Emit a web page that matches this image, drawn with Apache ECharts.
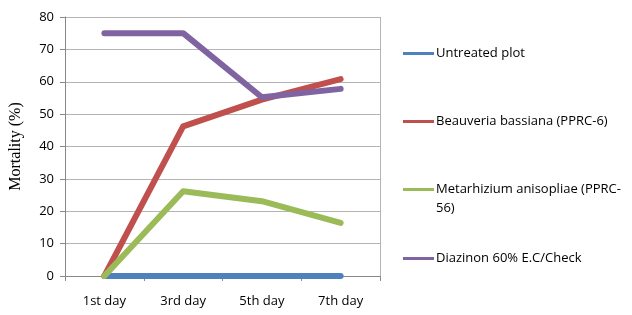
<!DOCTYPE html>
<html>
<head>
<meta charset="utf-8">
<script src="https://cdn.jsdelivr.net/npm/echarts@6/dist/echarts.min.js"></script>
<style>
  html, body { margin: 0; padding: 0; background: #fff; }
  #chart { width: 632px; height: 315px; }
</style>
</head>
<body>
<div id="chart"></div>
<script>
var days = ['1st day', '3rd day', '5th day', '7th day'];
var untreated = [0, 0, 0, 0];
var beauveria = [0, 46.2, 54.5, 60.8];
var metarhizium = [0, 26.2, 23.1, 16.4];
var diazinon = [75, 75, 55.2, 57.8];

var names = ['Untreated plot', 'Beauveria bassiana (PPRC-6)', 'Metarhizium anisopliae (PPRC-56)', 'Diazinon 60% E.C/Check'];
var colors = ['#4F81BD', '#C0504D', '#9BBB59', '#8064A2'];
var legendTops = [39, 107, 156, 244];

var legends = names.map(function (n, i) {
    return {
        data: [n],
        left: 398,
        top: legendTops[i],
        icon: 'rect',
        itemWidth: 31,
        itemHeight: 3,
        itemGap: 3,
        selectedMode: false,
        formatter: function (name) {
            // empty first line keeps the swatch level with the first text line
            return name === names[2] ? ' \nMetarhizium anisopliae (PPRC-\n56)' : name;
        },
        textStyle: {
            fontFamily: 'Open Sans', fontSize: 13, color: '#000', lineHeight: 19,
            padding: [0, 0, 0, -3]
        }
    };
});

function mk(name, data, i) {
    return {
        name: name,
        type: 'line',
        data: data,
        symbol: 'none',
        color: colors[i],
        lineStyle: { width: 6, cap: 'round', join: 'round', color: colors[i] },
        animation: false
    };
}

var option = {
    backgroundColor: '#fff',
    legend: legends,
    grid: { left: 63, right: 252, top: 17, bottom: 39 },
    xAxis: {
        type: 'category',
        data: days,
        boundaryGap: true,
        axisLine: { lineStyle: { color: '#888' } },
        axisTick: { show: true, length: 5, lineStyle: { color: '#888' } },
        axisLabel: { fontFamily: 'Open Sans', fontSize: 13, color: '#000', margin: 19 },
        splitLine: { show: false }
    },
    yAxis: {
        type: 'value',
        min: 0,
        max: 80,
        interval: 10,
        name: 'Mortality (%)',
        nameLocation: 'middle',
        nameGap: 41,
        nameTextStyle: { fontFamily: 'Liberation Serif', fontSize: 16, color: '#000' },
        axisLine: { show: true, lineStyle: { color: '#888' } },
        axisTick: { show: true, length: 5, lineStyle: { color: '#888' } },
        axisLabel: { fontFamily: 'Open Sans', fontSize: 13, color: '#000', margin: 11 },
        splitLine: { lineStyle: { color: '#b4b4b4', width: 1 } }
    },
    graphic: [{
        type: 'line',
        shape: { x1: 380.5, y1: 17, x2: 380.5, y2: 276 },
        style: { stroke: '#b4b4b4', lineWidth: 1 }
    }],
    series: [
        mk(names[0], untreated, 0),
        mk(names[1], beauveria, 1),
        mk(names[2], metarhizium, 2),
        mk(names[3], diazinon, 3)
    ]
};

var myChart = echarts.init(document.getElementById('chart'));
myChart.setOption(option);
</script>
</body>
</html>
